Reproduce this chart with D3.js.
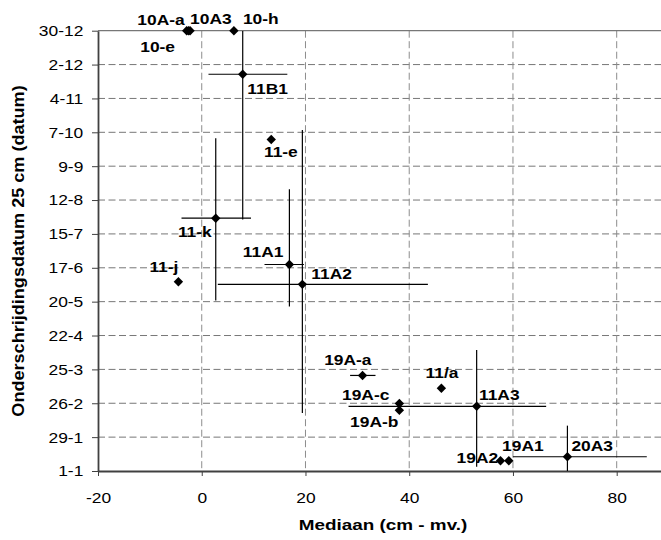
<!DOCTYPE html>
<html>
<head>
<meta charset="utf-8">
<script src="https://cdn.jsdelivr.net/npm/d3@7"></script>
<style>
  body { margin: 0; background: #fff; }
  text { font-family: "Liberation Sans", Arial, sans-serif; fill: #000; }
</style>
</head>
<body>
<svg id="chart" width="661" height="540"></svg>
<script>
// Monitoring sites
const sites = ["10A-a", "10-e", "10A3", "10-h", "11B1", "11-e", "11-k", "11-j", "11A1",
               "11A2", "19A-a", "11/a", "19A-c", "19A-b", "11A3", "19A2", "19A1", "20A3"];
// Median groundwater level (cm below surface)
const median = [-2.9, -2.55, -2.25, 6.2, 7.9, 13.4, 2.7, -4.5, 16.9,
                19.4, 31.0, 46.2, 38.1, 38.1, 53.0, 57.6, 59.2, 70.5];
// Date the level first drops below 25 cm, as days after 1 January
const exceedDay = [364, 364, 364, 364, 328, 274, 209, 156.5, 170.7,
                   154.3, 79, 68.4, 55.8, 50.2, 53.5, 8.5, 8.5, 11.8];
// Spread of the median (cm)
const medianLow  = [null, null, null, null, 1.3, null, -3.9, null, 12.1,
                    3.1, 28.6, null, null, null, 28.3, null, null, 60.0];
const medianHigh = [null, null, null, null, 16.5, null, 9.5, null, 19.7,
                    43.6, 33.5, null, null, null, 66.4, null, null, 85.8];
// Spread of the date (days after 1 January)
const dayLow  = [null, null, null, null, 208, null, 141, null, 136,
                 48, null, null, null, null, 3.6, null, null, 0];
const dayHigh = [null, null, null, null, 364, null, 275, null, 233,
                 282, null, null, null, null, 100, null, null, 37.5];

// Axis ticks
const xTicks = [-20, 0, 20, 40, 60, 80];
const yTickLabels = ["1-1", "29-1", "26-2", "25-3", "22-4", "20-5", "17-6",
                     "15-7", "12-8", "9-9", "7-10", "4-11", "2-12", "30-12"];

// Label placement next to each marker: [anchor, dx, dy]
const labelPlacement = {
  "10A-a": ["end", -2, -6],   "10-e": ["end", -13.5, 21],  "10A3": ["start", 0, -7],
  "10-h": ["start", 9, -7],   "11B1": ["start", 4.6, 19.3], "11-e": ["start", -7.3, 17.2],
  "11-k": ["end", -4, 19],    "11-j": ["end", 0, -9.7],     "11A1": ["end", -6, -7.8],
  "11A2": ["start", 9, -5],   "19A-a": ["end", 9, -10.3],   "11/a": ["start", -15.8, -10.3],
  "19A-c": ["end", -10, -3.5], "19A-b": ["end", -1, 16.4],  "11A3": ["start", 2.3, -5.8],
  "19A2": ["end", -2.4, 2],   "19A1": ["start", -6.7, -10], "20A3": ["start", 4, -6]
};

const SX = 1.2;  // horizontal widening of the text glyphs

const svg = d3.select("#chart");
const plotLeft = 98, plotTop = 30.7, plotBottom = 471;
const x = d3.scaleLinear().domain([-20, 90]).range([plotLeft, plotLeft + 110 * 5.187]);
const y = d3.scaleLinear().domain([0, 364]).range([plotBottom, plotTop]);
const plotRight = x(90);

// tick labels are day-month dates in a leap year
const parse = d3.utcParse("%d-%m-%Y");
const jan1 = new Date(Date.UTC(2008, 0, 1));
const yTickDays = yTickLabels.map(l => d3.utcDay.count(jan1, parse(l + "-2008")));

svg.append("defs").append("clipPath").attr("id", "plot-clip")
  .append("rect").attr("x", plotLeft).attr("y", plotTop)
  .attr("width", plotRight - plotLeft).attr("height", plotBottom - plotTop);

// gridlines
const grid = svg.append("g");
grid.selectAll("line.h").data(yTickDays.filter(d => d > 0 && d < 364)).join("line")
  .attr("x1", plotLeft).attr("x2", plotRight).attr("y1", d => y(d)).attr("y2", d => y(d))
  .attr("stroke", "#777").attr("stroke-width", 1).attr("stroke-dasharray", "7,3.5");
grid.selectAll("line.v").data(xTicks.filter(d => d > -20)).join("line")
  .attr("x1", d => x(d)).attr("x2", d => x(d)).attr("y1", plotTop).attr("y2", plotBottom)
  .attr("stroke", "#8c8c8c").attr("stroke-width", 1).attr("stroke-dasharray", "7,3.5");
grid.append("line").attr("x1", plotLeft).attr("x2", plotRight).attr("y1", y(364)).attr("y2", y(364))
  .attr("stroke", "#777").attr("stroke-width", 1.2);

// axes
const yAxis = svg.append("g").attr("transform", `translate(${plotLeft},0)`)
  .call(d3.axisLeft(y).tickValues(yTickDays).tickFormat((d, i) => yTickLabels[i]).tickSize(6).tickSizeOuter(0));
yAxis.select(".domain").attr("stroke", "#404040").attr("stroke-width", 1.8);
yAxis.selectAll(".tick line").attr("stroke", "#404040");
yAxis.selectAll(".tick text").attr("x", 0).attr("dy", "0.34em").attr("font-size", 14.5)
  .attr("transform", `translate(-14.7,0) scale(${SX},1)`);

const xAxis = svg.append("g").attr("transform", `translate(0,${plotBottom})`)
  .call(d3.axisBottom(x).tickValues(xTicks).tickFormat(d => String(d)).tickSize(5).tickSizeOuter(0));
xAxis.select(".domain").attr("stroke", "#404040").attr("stroke-width", 2);
xAxis.selectAll(".tick line").attr("stroke", "#404040");
xAxis.selectAll(".tick text").attr("y", 0).attr("dy", 0).attr("font-size", 14.5)
  .attr("transform", `translate(0,32) scale(${SX},1)`);
svg.selectAll(".tick text").attr("font-family", "Liberation Sans, Arial, sans-serif").attr("fill", "#000");

// axis titles
svg.append("text").text("Mediaan (cm - mv.)")
  .attr("text-anchor", "middle").attr("font-size", 15).attr("font-weight", "bold")
  .attr("transform", `translate(383,530) scale(1.26,1)`);
svg.append("text").text("Onderschrijdingsdatum 25 cm (datum)")
  .attr("text-anchor", "middle").attr("font-size", 16).attr("font-weight", "bold")
  .attr("transform", `translate(24,251) rotate(-90) scale(1.13,1)`);

// points
const pts = sites.map((s, i) => ({
  site: s, x: median[i], day: exceedDay[i],
  xlo: medianLow[i], xhi: medianHigh[i], dlo: dayLow[i], dhi: dayHigh[i]
}));

// error bars
const bars = svg.append("g").attr("clip-path", "url(#plot-clip)")
  .attr("stroke", "#000").attr("stroke-width", 1.2);
bars.selectAll("line.ex").data(pts.filter(p => p.xlo !== null)).join("line")
  .attr("x1", p => x(p.xlo)).attr("x2", p => x(p.xhi))
  .attr("y1", p => y(p.day)).attr("y2", p => y(p.day));
bars.selectAll("line.ey").data(pts.filter(p => p.dlo !== null)).join("line")
  .attr("x1", p => x(p.x)).attr("x2", p => x(p.x))
  .attr("y1", p => y(p.dlo)).attr("y2", p => y(p.dhi));

// diamond markers
const diamond = d3.symbol(d3.symbolSquare, 44);
svg.append("g").selectAll("path").data(pts).join("path")
  .attr("d", diamond)
  .attr("transform", p => `translate(${x(p.x)},${y(p.day)}) rotate(45)`)
  .attr("fill", "#000");

// site labels
svg.append("g").selectAll("text").data(pts).join("text")
  .text(p => p.site)
  .attr("font-size", 14.5).attr("font-weight", "bold")
  .attr("text-anchor", p => labelPlacement[p.site][0])
  .attr("transform", p => {
    const [, dx, dy] = labelPlacement[p.site];
    return `translate(${x(p.x) + dx},${y(p.day) + dy}) scale(${SX},1)`;
  });
</script>
</body>
</html>
